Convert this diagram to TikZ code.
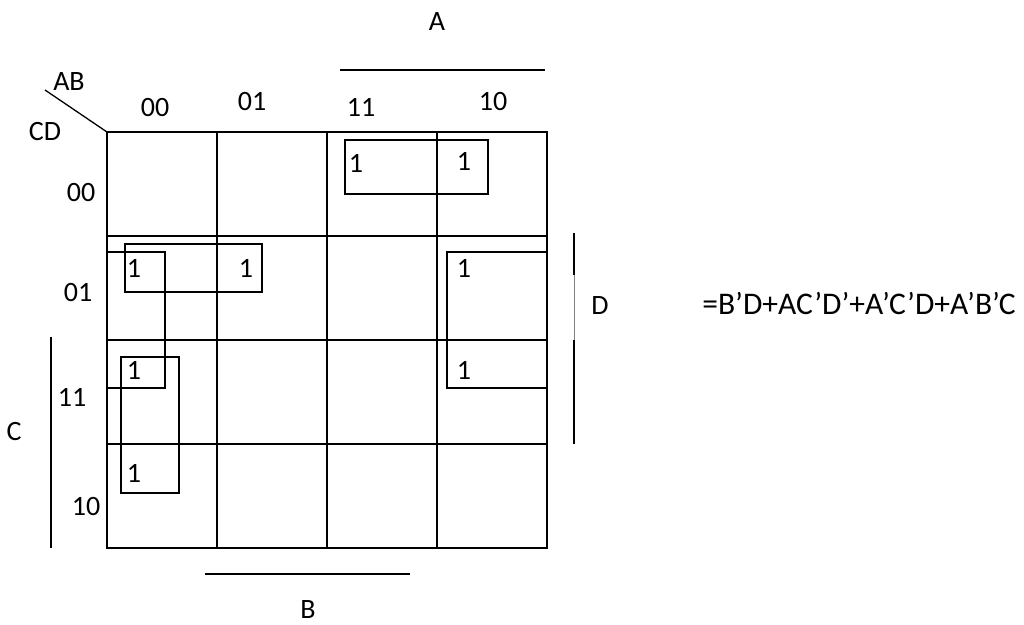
\documentclass[tikz,border=0pt]{standalone}
\usepackage{fontspec}
\setmainfont{Carlito}
\usetikzlibrary{positioning}

\begin{document}
\begin{tikzpicture}[x=1pt, y=-1pt, every node/.style={font=\fontsize{28}{32}\selectfont, inner sep=1pt}, grid/.style={line width=1.8pt}, group/.style={draw, line width=1.3pt}, bar/.style={line width=1.8pt}]
\useasboundingbox (0,0) rectangle (1024,624);
% the map
\foreach \i in {0,...,4} {\draw[grid] (107+110*\i,131) -- (107+110*\i,549); \draw[grid] (106,132+104*\i) -- (548,132+104*\i);}
\draw[line width=1.3pt] (45,90) -- (107,132);
% headings
\node (ab) at (69,82) {AB}; \node (cd) at (45,132) {CD};
\node (c00) at (155,108) {00}; \node (c01) at (252,102) {01}; \node (c11) at (361,107) {11}; \node (c10) at (493,102) {10};
\node (r00) at (81,193) {00}; \node (r01) at (78,293) {01}; \node (r11) at (72,397) {11}; \node (r10) at (86,507) {10};
% variable bars
\draw[bar] (340,70) -- (545,70); \node (va) at (437,22) {A};
\draw[bar] (205,574) -- (410,574); \node (vb) at (308,610) {B};
\draw[bar] (51,337) -- (51,548); \node (vc) at (14,432) {C};
\draw[bar] (574,233) -- (574,275); \draw[gray, line width=0.8pt] (574,275) -- (574,340); \draw[bar] (574,340) -- (574,444); \node (vd) at (600,306) {D};
% ones
\node (m8) at (356,163) {1}; \node (m10) at (464,161) {1};
\node (m1) at (134,268) {1}; \node (m5) at (246,268) {1};
\node (m3) at (134,370) {1}; \node (m2) at (134,473) {1};
\node (m9) at (464,268) {1}; \node (m11) at (464,370) {1};
% groups
\draw[group] (345,140) rectangle (488,194);
\draw[group] (125,244) rectangle (262,292);
\draw[group] (107,252) rectangle (165,388);
\draw[group] (121,357) rectangle (179,493);
\draw[group] (547,252) -- (447,252) -- (447,388) -- (547,388);
% result
\node[font=\fontsize{31.5}{36}\selectfont] (f) at (859,303) {=B’D+AC’D’+A’C’D+A’B’C};
\end{tikzpicture}
\end{document}
